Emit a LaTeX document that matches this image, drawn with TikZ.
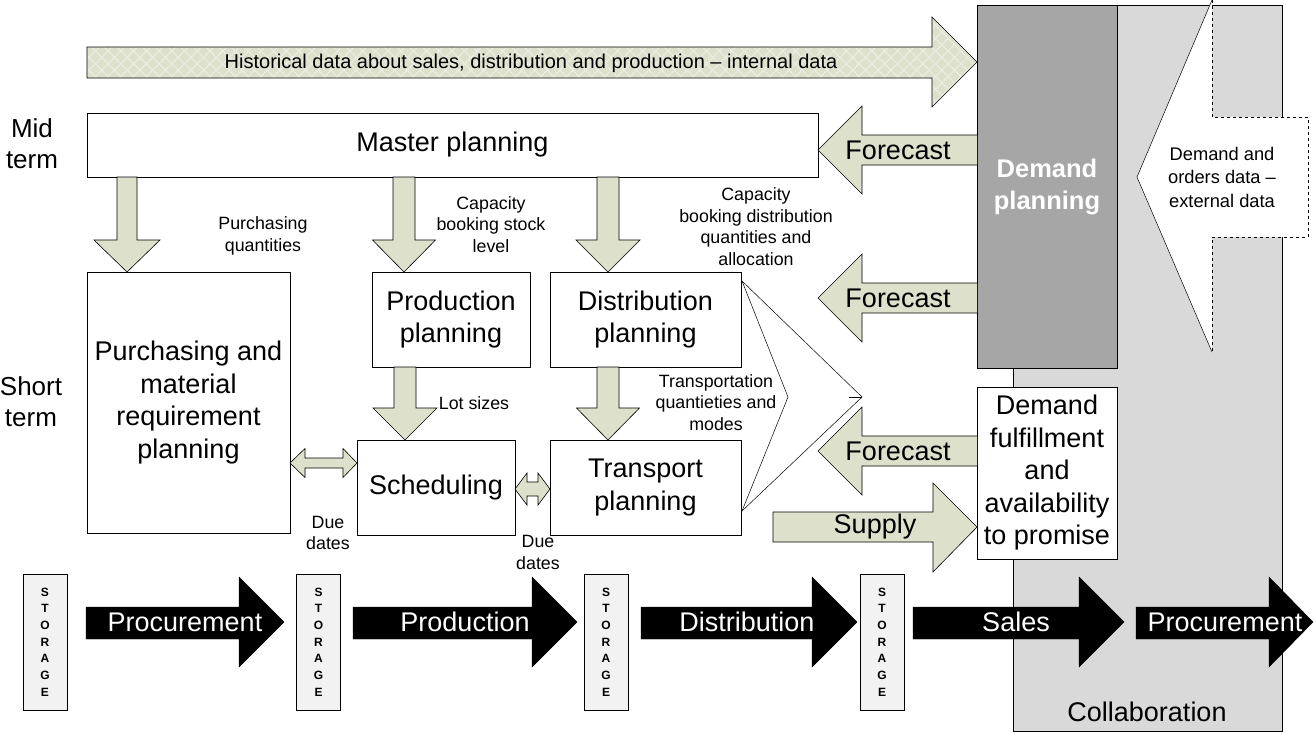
\documentclass[tikz,border=0pt]{standalone}
\usepackage{fontspec}
\setmainfont{Liberation Sans}
\usetikzlibrary{patterns.meta}
\definecolor{sagec}{RGB}{221,225,204}
\definecolor{sagel}{RGB}{236,238,228}
\definecolor{collab}{RGB}{217,217,217}
\definecolor{dpgray}{RGB}{166,166,166}
\definecolor{storfill}{RGB}{242,242,242}
\newcommand{\fBig}{\fontsize{27}{32.5}\selectfont}
\newcommand{\fSmall}{\fontsize{17.8}{21.5}\selectfont}
\newcommand{\sdown}[6]{%
  \draw[sagearrow] ({#1-#2},#4) -- ({#1+#2},#4) -- ({#1+#2},#5) -- ({#1+#3},#5) -- (#1,#6) -- ({#1-#3},#5) -- ({#1-#2},#5) -- cycle;}
\newcommand{\sleftarr}[1]{%
  \draw[sagearrow] (977,{#1-15}) -- (862,{#1-15}) -- (862,{#1-44}) -- (818,#1) -- (862,{#1+44}) -- (862,{#1+15}) -- (977,{#1+15});}
\newcommand{\blkarrow}[3]{%
  \draw[fill=black,draw=black] (#1,607) -- (#2,607) -- (#2,577) -- (#3,622) -- (#2,667) -- (#2,639) -- (#1,639) -- cycle;}
\begin{document}
\begin{tikzpicture}[x=1pt,y=-1pt,line join=miter,
  box/.style={draw,fill=white,line width=0.8pt,inner sep=0pt,outer sep=0pt,align=center,font=\fBig},
  sagearrow/.style={fill=sagec,draw=black,line width=0.6pt},
  lbl/.style={align=center,font=\fSmall,inner sep=0pt},
  storbox/.style={draw,fill=storfill,line width=0.8pt,minimum width=44pt,minimum height=136pt,inner sep=0pt,align=center,font=\bfseries\fontsize{12}{16.7}\selectfont},
  wtxt/.style={text=white,font=\fBig,inner sep=0pt}]
\useasboundingbox (0,0) rectangle (1314,732);
\fill[white] (0,0) rectangle (1314,732);

% collaboration background
\draw[fill=collab,line width=0.8pt] (1013,5) rectangle (1282,731);
\node[font=\fBig,inner sep=0pt] (collabtxt) at (1147,712) {Collaboration};

% external data callout
\fill[white] (1212,0) -- (1212,117) -- (1308,117) -- (1308,237) -- (1212,237) -- (1212,352) -- (1137,177) -- cycle;
\draw[dashed,line width=0.7pt] (1212,0) -- (1212,117) -- (1308,117) -- (1308,237) -- (1212,237) -- (1212,352);
\draw[line width=0.5pt] (1212,352) -- (1137,177) -- (1212,0);
\node[align=center,font=\fontsize{18.3}{23.5}\selectfont,inner sep=0pt] (ext) at (1222,177) {Demand and\\orders data --\\external data};

% demand planning
\node[box,fill=dpgray,minimum width=140pt,minimum height=363pt,text=white,font=\bfseries\fontsize{25.5}{32}\selectfont] (dp) at (1047,186.5) {Demand\\planning};

% historical data arrow
\def\histpath{(87,47) -- (932,47) -- (932,17) -- (977,62) -- (932,107) -- (932,78) -- (87,78) -- cycle}
\fill[sagec] \histpath;
\path[pattern={Lines[angle=45,distance=9pt,line width=1pt]},pattern color=sagel] \histpath;
\path[pattern={Lines[angle=-45,distance=9pt,line width=1pt]},pattern color=sagel] \histpath;
\draw[line width=0.6pt] \histpath;
\node[font=\fontsize{20}{24}\selectfont,inner sep=0pt] (hist) at (531,63) {Historical data about sales, distribution and production -- internal data};

% time labels
\node[align=center,font=\fontsize{26}{31}\selectfont,inner sep=0pt] (mid) at (32,144) {Mid\\term};
\node[align=center,font=\fontsize{26}{31}\selectfont,inner sep=0pt] (short) at (31,402) {Short\\term};

% planning boxes
\node[box,minimum width=731pt,minimum height=64pt] (master) at (452.5,145) {Master planning};
\node[box,minimum width=203pt,minimum height=261pt] (purch) at (188.5,402.5) {Purchasing and\\material\\requirement\\planning};
\node[box,minimum width=158pt,minimum height=95pt] (prod) at (451,319.5) {Production\\planning};
\node[box,minimum width=191pt,minimum height=95pt] (dist) at (645.5,319.5) {Distribution\\planning};
\node[box,minimum width=158pt,minimum height=95pt] (sched) at (436,487.5) {Scheduling};
\node[box,minimum width=191pt,minimum height=95pt] (trans) at (645.5,487.5) {Transport\\planning};
\node[box,minimum width=140pt,minimum height=172pt] (dful) at (1047,473) {Demand\\fulfillment\\and\\availability\\to promise};

% down arrows
\sdown{127}{10}{33}{177}{240}{272}
\sdown{404}{11}{31.5}{177}{240}{272}
\sdown{608}{11}{32}{177}{240}{272}
\sdown{405}{11}{32}{367}{408}{440}
\sdown{608}{11}{31.5}{367}{408}{440}

% forecast arrows
\sleftarr{150}
\node[font=\fBig,inner sep=0pt] (fc1) at (898,150) {Forecast};
\sleftarr{298}
\node[font=\fBig,inner sep=0pt] (fc2) at (898,298) {Forecast};
\sleftarr{451}
\node[font=\fBig,inner sep=0pt] (fc3) at (898,451) {Forecast};

% supply arrow
\draw[sagearrow] (773,512) -- (933,512) -- (933,483) -- (977,527) -- (933,572) -- (933,542) -- (773,542) -- cycle;
\node[font=\fBig,inner sep=0pt] (sup) at (875,527) {Supply};

% double arrows
\draw[sagearrow] (290,463) -- (305,448.5) -- (305,458) -- (343,458) -- (343,448.5) -- (357,463) -- (343,477.5) -- (343,468) -- (305,468) -- (305,477.5) -- cycle;
\draw[sagearrow] (515,489) -- (527,473) -- (527,482) -- (538,482) -- (538,473) -- (550,489) -- (538,505) -- (538,496) -- (527,496) -- (527,505) -- cycle;

% chevron lines
\draw[line width=0.5pt] (742,281) -- (788,397) -- (742,511);
\draw[line width=0.5pt] (742,281) -- (862,397) -- (742,511);
\draw[line width=0.5pt] (849,397) -- (862,397);

% labels
\node[lbl] (l1) at (263,236) {Purchasing\\quantities};
\node[lbl] (l2) at (491,224.5) {Capacity\\booking stock\\level};
\node[lbl] (l3) at (756,226.5) {Capacity\\booking distribution\\quantities and\\allocation};
\node[lbl] (l4) at (474,403) {Lot sizes};
\node[lbl] (l5) at (716,402.5) {Transportation\\quantieties and\\modes};
\node[lbl] (l6) at (328,533) {Due\\dates};
\node[lbl] (l7) at (538,552.5) {Due\\dates};

% bottom flow
\node[storbox] (s1) at (45,642) {S\\T\\O\\R\\A\\G\\E};
\node[storbox] (s2) at (318.5,642) {S\\T\\O\\R\\A\\G\\E};
\node[storbox] (s3) at (606,642) {S\\T\\O\\R\\A\\G\\E};
\node[storbox] (s4) at (882,642) {S\\T\\O\\R\\A\\G\\E};
\blkarrow{86}{239}{284}
\node[wtxt] (b1) at (185,622) {Procurement};
\blkarrow{353}{532}{577}
\node[wtxt] (b2) at (465,622) {Production};
\blkarrow{641}{812}{857}
\node[wtxt] (b3) at (747,622) {Distribution};
\blkarrow{913}{1079}{1124}
\node[wtxt] (b4) at (1016,622) {Sales};
\blkarrow{1136}{1269}{1313}
\node[wtxt] (b5) at (1225,622) {Procurement};
\end{tikzpicture}
\end{document}
